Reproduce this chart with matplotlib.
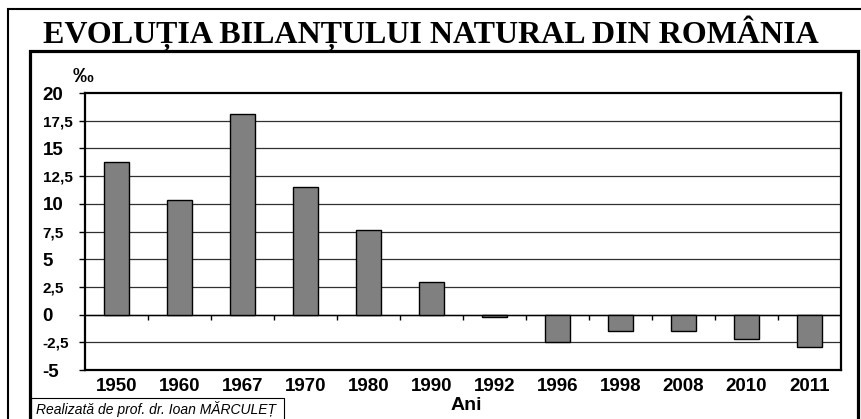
import numpy as np
import matplotlib
matplotlib.use('Agg')
import matplotlib.pyplot as plt
from matplotlib.patches import Rectangle

years = ['1950', '1960', '1967', '1970', '1980', '1990',
         '1992', '1996', '1998', '2008', '2010', '2011']
bilant = [13.8, 10.3, 18.1, 11.5, 7.6, 2.9,
          -0.2, -2.5, -1.5, -1.5, -2.2, -2.9]
y_ticks = [-5, -2.5, 0, 2.5, 5, 7.5, 10, 12.5, 15, 17.5, 20]

W, H = 862, 419
fig = plt.figure(figsize=(W / 100, H / 100), dpi=100)
ax = fig.add_axes([85 / W, 1 - 370 / H, (841 - 85) / W, (370 - 93) / H])

x = np.arange(len(years))

ax.set_axisbelow(True)
for v in y_ticks[1:-1]:
    ax.axhline(v, color='#303030', linewidth=0.9, zorder=0)
ax.axhline(0, color='black', linewidth=1.0, zorder=1)
ax.vlines(np.arange(0.5, len(years) - 1, 1), -0.45, 0, color='black', linewidth=1.0)

ax.bar(x, bilant, width=0.41, color='#808080', edgecolor='black', linewidth=1.0, zorder=2)

ax.set_xlim(-0.5, len(years) - 0.5)
ax.set_ylim(-5, 20)

ax.set_xticks(x)
ax.set_xticklabels(years, fontsize=13.5, fontweight='bold', family='Liberation Sans')
ax.tick_params(axis='x', length=0, pad=6)

ax.set_yticks(y_ticks)
labels = [str(v).replace('.', ',') if v % 1 else str(int(v)) for v in y_ticks]
ax.set_yticklabels(labels, family='Liberation Sans', fontweight='bold')
ax.tick_params(axis='y', length=4, width=1, direction='out', pad=26.5)
for lab, v in zip(ax.get_yticklabels(), y_ticks):
    lab.set_horizontalalignment('left')
    lab.set_fontsize(13.5 if v % 5 == 0 else 11)

for s in ax.spines.values():
    s.set_linewidth(1.6)
    s.set_color('black')

# title and labels
fig.text(0.5, 1 - 33 / H, 'EVOLUȚIA BILANȚULUI NATURAL DIN ROMÂNIA',
         ha='center', va='center', fontsize=23, fontweight='bold',
         family='Liberation Serif')
fig.text(83 / W, 1 - 77 / H, '‰', ha='center', va='center', fontsize=15,
         fontweight='bold', family='Liberation Sans')
fig.text(466 / W, 1 - 405 / H, 'Ani', ha='center', va='center', fontsize=14,
         fontweight='bold', family='Liberation Sans')

# frames
fig.patches.append(Rectangle((8 / W, -0.1), 1.1, 1 - 9 / H + 0.1, transform=fig.transFigure,
                             fill=False, edgecolor='black', linewidth=1.5))
fig.patches.append(Rectangle((30 / W, -0.1), (858 - 30) / W, 1 - 51 / H + 0.1,
                             transform=fig.transFigure, fill=False,
                             edgecolor='black', linewidth=2.3))
fig.patches.append(Rectangle((31 / W, -0.1), (284 - 31) / W, 1 - 398 / H + 0.1,
                             transform=fig.transFigure, fill=False,
                             edgecolor='black', linewidth=0.8))
fig.text(36 / W, 1 - 409 / H, 'Realizată de prof. dr. Ioan MĂRCULEȚ',
         ha='left', va='center', fontsize=10, style='italic',
         family='Liberation Sans')

plt.savefig('out.png', dpi=100)
